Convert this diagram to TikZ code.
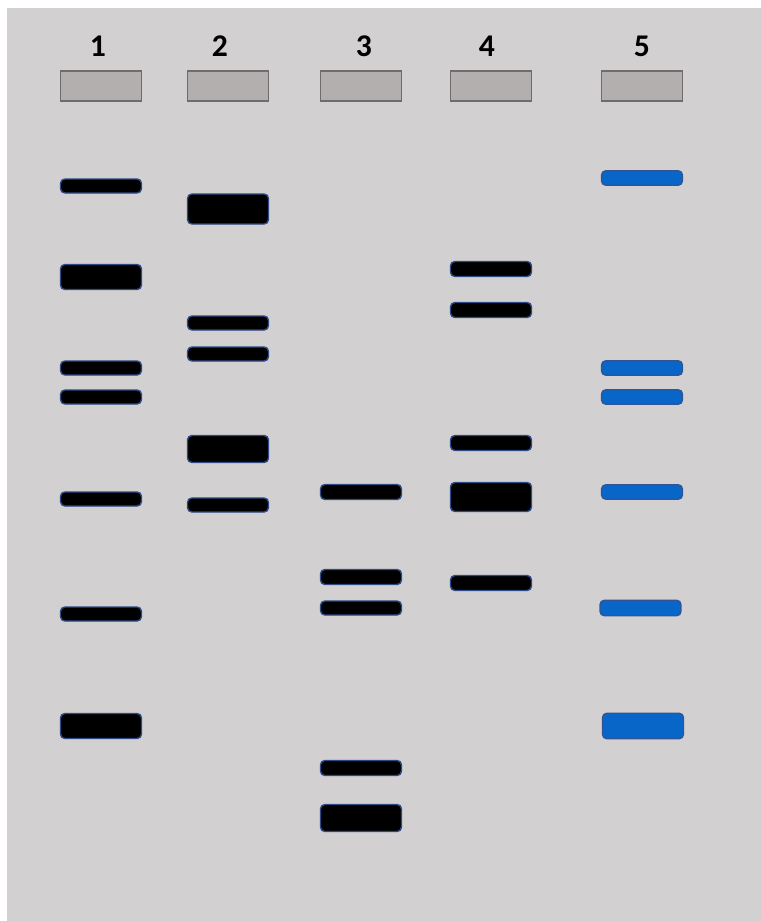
\documentclass[tikz,border=0pt]{standalone}
\usepackage{fontspec}
\setmainfont{Carlito}
\usepackage{xcolor}
\usepackage{tikz}
\usetikzlibrary{positioning}

\definecolor{gelgray}{HTML}{D2D0D1}
\definecolor{wellfill}{HTML}{B3AFAF}
\definecolor{welldraw}{HTML}{6E6C6C}
\definecolor{bandedge}{HTML}{2E4A87}
\definecolor{ladderblue}{HTML}{0766C8}
\definecolor{ladderedge}{HTML}{2F5597}

\begin{document}
\begin{tikzpicture}[
  x=0.02cm, y=-0.02cm,
  well/.style={draw=welldraw, fill=wellfill, line width=1.1pt,
               minimum width=1.62cm, minimum height=0.6cm, inner sep=0pt},
  lanenum/.style={font=\fontsize{18}{21}\selectfont\bfseries, inner sep=0pt},
  band/.style={draw=bandedge, fill=black, line width=0.8pt, rounded corners=2.5pt,
               minimum width=1.62cm, minimum height=#1, inner sep=0pt},
  band/.default=0.28cm,
  ladder/.style={band=#1, fill=ladderblue, draw=ladderedge},
  ladder/.default=0.29cm
]
  \useasboundingbox (0,0) rectangle (761,921);
  \fill[gelgray] (7,8) rectangle (761,921);

  % wells and lane numbers
  \node[well] (well1) at (101,86) {};
  \node[well] (well2) at (228,86) {};
  \node[well] (well3) at (361,86) {};
  \node[well] (well4) at (491,86) {};
  \node[well] (well5) at (642,86) {};
  \node[lanenum, above=0.26cm of well1, xshift=-0.06cm] (num1) {1};
  \node[lanenum, above=0.26cm of well2, xshift=-0.16cm] (num2) {2};
  \node[lanenum, above=0.26cm of well3, xshift=0.06cm]  (num3) {3};
  \node[lanenum, above=0.26cm of well4, xshift=-0.08cm] (num4) {4};
  \node[lanenum, above=0.26cm of well5]                 (num5) {5};

  % lane 1
  \node[band]        (lane1a) at (101,186) {};
  \node[band=0.5cm]  (lane1b) at (101,277) {};
  \node[band]        (lane1c) at (101,368) {};
  \node[band]        (lane1d) at (101,397) {};
  \node[band]        (lane1e) at (101,499) {};
  \node[band]        (lane1f) at (101,614) {};
  \node[band=0.5cm]  (lane1g) at (101,726) {};

  % lane 2
  \node[band=0.6cm]  (lane2a) at (228,209) {};
  \node[band]        (lane2b) at (228,323) {};
  \node[band]        (lane2c) at (228,354) {};
  \node[band=0.54cm] (lane2d) at (228,449) {};
  \node[band]        (lane2e) at (228,505) {};

  % lane 3
  \node[band=0.3cm]  (lane3a) at (361,492) {};
  \node[band=0.3cm]  (lane3b) at (361,577) {};
  \node[band]        (lane3c) at (361,608) {};
  \node[band=0.3cm]  (lane3d) at (361,768) {};
  \node[band=0.54cm] (lane3e) at (361,818) {};

  % lane 4
  \node[band=0.3cm]  (lane4a) at (491,269) {};
  \node[band=0.3cm]  (lane4b) at (491,310) {};
  \node[band=0.3cm]  (lane4c) at (491,443) {};
  \node[band=0.58cm] (lane4d) at (491,497) {};
  \node[band=0.3cm]  (lane4e) at (491,583) {};

  % lane 5 (ladder)
  \node[ladder]        (lane5a) at (642,178) {};
  \node[ladder]        (lane5b) at (642,368) {};
  \node[ladder]        (lane5c) at (642,397) {};
  \node[ladder]        (lane5d) at (642,492) {};
  \node[ladder=0.31cm] (lane5e) at (640.5,608) {};
  \node[ladder=0.51cm] (lane5f) at (643,726) {};
\end{tikzpicture}
\end{document}
